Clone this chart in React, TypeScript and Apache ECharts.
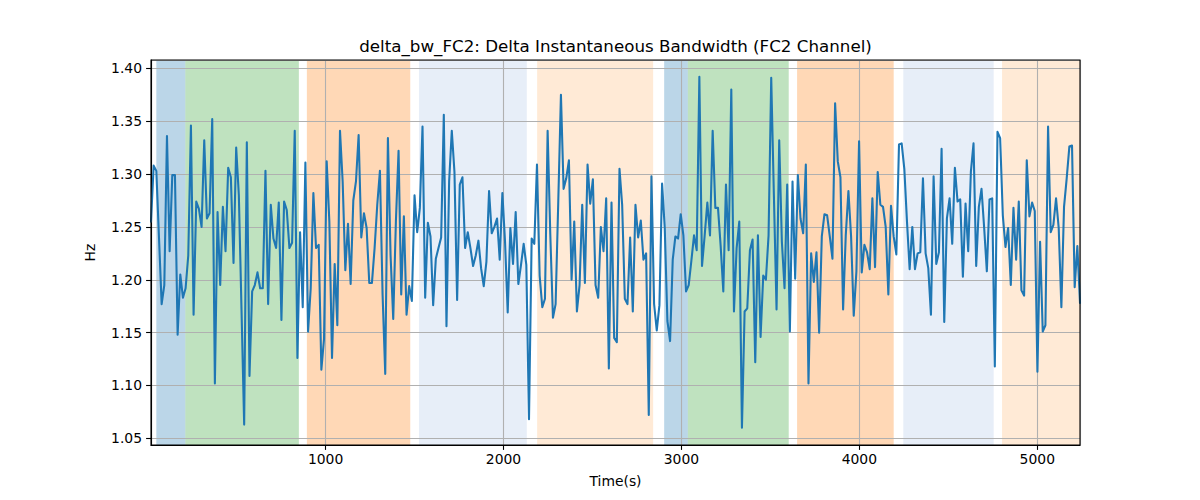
import React, { useEffect, useRef } from "react";
import * as echarts from "echarts";

const TITLE = "delta_bw_FC2: Delta Instantaneous Bandwidth (FC2 Channel)";
const X_LABEL = "Time(s)";
const Y_LABEL = "Hz";

const T0 = 19;
const DT = 14.96;

const bandwidth = [
  1.255, 1.308, 1.303, 1.240, 1.177, 1.195, 1.336, 1.227, 1.299, 1.299, 1.148, 1.205, 1.183, 1.192, 1.223, 1.346,
  1.167, 1.274, 1.267, 1.250, 1.332, 1.258, 1.263, 1.352, 1.102, 1.264, 1.195, 1.269, 1.227, 1.306, 1.297, 1.216,
  1.325, 1.280, 1.172, 1.063, 1.330, 1.109, 1.189, 1.195, 1.207, 1.192, 1.192, 1.303, 1.177, 1.271, 1.239, 1.230,
  1.273, 1.162, 1.274, 1.266, 1.230, 1.235, 1.341, 1.126, 1.245, 1.174, 1.311,
  1.151, 1.192, 1.282, 1.230, 1.233, 1.115, 1.144, 1.312, 1.255, 1.126, 1.215, 1.157, 1.341, 1.293, 1.209, 1.253,
  1.196, 1.275, 1.293, 1.337, 1.240, 1.263, 1.249, 1.197, 1.197, 1.230, 1.271, 1.303, 1.186, 1.111, 1.334, 1.223,
  1.163, 1.255, 1.322, 1.186, 1.260, 1.167, 1.194, 1.180, 1.280, 1.245, 1.268, 1.345, 1.183, 1.254, 1.241, 1.176,
  1.220, 1.230, 1.240, 1.356, 1.156, 1.293, 1.341, 1.302,
  1.181, 1.290, 1.297, 1.230, 1.245, 1.230, 1.213, 1.223, 1.237, 1.211, 1.194, 1.217, 1.284, 1.244, 1.250, 1.258,
  1.219, 1.282, 1.236, 1.169, 1.249, 1.215, 1.264, 1.196, 1.214, 1.234, 1.214, 1.068, 1.239, 1.234, 1.309, 1.204,
  1.174, 1.182, 1.341, 1.243, 1.164, 1.177, 1.274, 1.375, 1.286, 1.296, 1.313, 1.200, 1.255, 1.170, 1.195, 1.271,
  1.197, 1.309, 1.272, 1.295, 1.195, 1.183, 1.250, 1.227,
  1.277, 1.116, 1.273, 1.145, 1.141, 1.305, 1.271, 1.182, 1.177, 1.240, 1.170, 1.271, 1.240, 1.256, 1.219, 1.225,
  1.072, 1.298, 1.177, 1.152, 1.176, 1.291, 1.249, 1.161, 1.142, 1.219, 1.241, 1.239, 1.262, 1.242, 1.189, 1.195,
  1.218, 1.242, 1.228, 1.392, 1.213, 1.242, 1.273, 1.242, 1.341, 1.268, 1.268, 1.232, 1.189, 1.290, 1.228, 1.380,
  1.170, 1.230, 1.255, 1.060, 1.170, 1.173, 1.228, 1.238, 1.122,
  1.242, 1.146, 1.204, 1.200, 1.242, 1.391, 1.280, 1.172, 1.332, 1.236, 1.192, 1.290, 1.151, 1.293, 1.201, 1.299,
  1.258, 1.244, 1.309, 1.102, 1.225, 1.198, 1.226, 1.150, 1.241, 1.262, 1.261, 1.241, 1.220, 1.367, 1.312, 1.297,
  1.172, 1.242, 1.284, 1.241, 1.166, 1.208, 1.331, 1.207, 1.233, 1.226, 1.210, 1.277, 1.212, 1.302, 1.271, 1.269,
  1.250, 1.186, 1.270, 1.241, 1.224, 1.328, 1.329, 1.305,
  1.255, 1.210, 1.250, 1.210, 1.225, 1.226, 1.296, 1.225, 1.211, 1.167, 1.298, 1.215, 1.226, 1.324, 1.160, 1.258,
  1.277, 1.234, 1.306, 1.274, 1.276, 1.203, 1.272, 1.227, 1.302, 1.329, 1.213, 1.269, 1.286, 1.249, 1.208, 1.276,
  1.277, 1.118, 1.340, 1.334, 1.261, 1.231, 1.249, 1.195, 1.268, 1.219, 1.274, 1.190, 1.185, 1.313, 1.260, 1.273,
  1.265, 1.113, 1.236, 1.151, 1.157, 1.345, 1.245, 1.252, 1.277, 1.249, 1.174, 1.269, 1.296, 1.326, 1.327, 1.193,
  1.232, 1.178,
];

const spanStarts = [49, 212, 895, 1525, 2189, 2903, 3036, 3650, 4247, 4802];
const spanEnds = [212, 850, 1476, 2131, 2841, 3036, 3603, 4193, 4755, 5240];
const spanKinds = ["blue", "green", "orange", "lightblue", "lightorange", "blue", "green", "orange", "lightblue", "lightorange"];

const spanColors: Record<string, string> = {
  blue: "rgba(31,119,180,0.3)",
  green: "rgba(44,160,44,0.3)",
  orange: "rgba(255,127,14,0.3)",
  lightblue: "rgba(174,199,232,0.3)",
  lightorange: "rgba(255,187,120,0.3)",
};

const X_MIN = 19;
const X_MAX = 5240;
const Y_MIN = 1.0437;
const Y_MAX = 1.4079;

const FONT = "DejaVu Sans";

export default function App() {
  const ref = useRef<HTMLDivElement>(null);

  useEffect(() => {
    if (!ref.current) return;
    const chart = echarts.init(ref.current, null, { renderer: "svg" });

    const lineData = bandwidth.map((v, i) => [T0 + i * DT, v]);
    const areas = spanStarts.map((s, i) => [
      { xAxis: s, itemStyle: { color: spanColors[spanKinds[i]] } },
      { xAxis: spanEnds[i] },
    ]);

    const gridLeft = 151;
    const gridTop = 60;
    const gridWidth = 929;
    const gridHeight = 385;

    const option: any = {
      animation: false,
      backgroundColor: "#ffffff",
      textStyle: { fontFamily: FONT },
      grid: { left: gridLeft, top: gridTop, width: gridWidth, height: gridHeight, containLabel: false },
      xAxis: {
        type: "value",
        min: X_MIN,
        max: X_MAX,
        splitNumber: 5,
        z: 2,
        name: X_LABEL,
        nameLocation: "middle",
        nameGap: 29,
        nameTextStyle: { fontFamily: FONT, fontSize: 13.9, color: "#000" },
        axisLine: { show: true, lineStyle: { color: "#000", width: 1.1 } },
        axisTick: { show: true, length: 4.9, lineStyle: { color: "#000", width: 1.1 } },
        axisLabel: {
          showMinLabel: false,
          showMaxLabel: false,
          margin: 7,
          fontFamily: FONT,
          fontSize: 13.9,
          color: "#000",
          formatter: (v: number) => String(Math.round(v)),
        },
        splitLine: { show: true, lineStyle: { color: "#b0b0b0", width: 1.1 } },
      },
      yAxis: {
        type: "value",
        min: Y_MIN,
        max: Y_MAX,
        splitNumber: 7,
        z: 2,
        name: Y_LABEL,
        nameLocation: "middle",
        nameGap: 54,
        nameRotate: 90,
        nameTextStyle: { fontFamily: FONT, fontSize: 13.9, color: "#000" },
        axisLine: { show: true, lineStyle: { color: "#000", width: 1.1 } },
        axisTick: { show: true, length: 4.9, lineStyle: { color: "#000", width: 1.1 } },
        axisLabel: {
          showMinLabel: false,
          showMaxLabel: false,
          margin: 9,
          fontFamily: FONT,
          fontSize: 13.9,
          color: "#000",
          formatter: (v: number) => v.toFixed(2),
        },
        splitLine: { show: true, lineStyle: { color: "#b0b0b0", width: 1.1 } },
      },
      graphic: [
        {
          type: "text",
          x: gridLeft + gridWidth / 2,
          y: 46,
          z: 10,
          style: {
            text: TITLE,
            fontFamily: FONT,
            fontSize: 16.7,
            fill: "#000",
            textAlign: "center",
            textVerticalAlign: "middle",
          },
        },
        {
          type: "rect",
          z: 10,
          shape: { x: gridLeft, y: gridTop, width: gridWidth, height: gridHeight },
          style: { fill: "none", stroke: "#000", lineWidth: 1.1 },
          silent: true,
        },
      ],
      series: [
        {
          type: "line",
          name: "spans",
          data: [],
          z: 1,
          silent: true,
          markArea: {
            silent: true,
            z: 1,
            itemStyle: { borderWidth: 0 },
            data: areas,
          },
        },
        {
          type: "line",
          name: "delta_bw_FC2",
          data: lineData,
          z: 3,
          showSymbol: false,
          symbol: "none",
          clip: true,
          lineStyle: { color: "#1f77b4", width: 2.08, join: "round", cap: "round" },
          itemStyle: { color: "#1f77b4" },
        },
      ],
    };

    chart.setOption(option);
    return () => chart.dispose();
  }, []);

  return (
    <div
      ref={ref}
      style={{ position: "fixed", left: 0, top: 0, width: 1200, height: 500, background: "#fff" }}
    />
  );
}
